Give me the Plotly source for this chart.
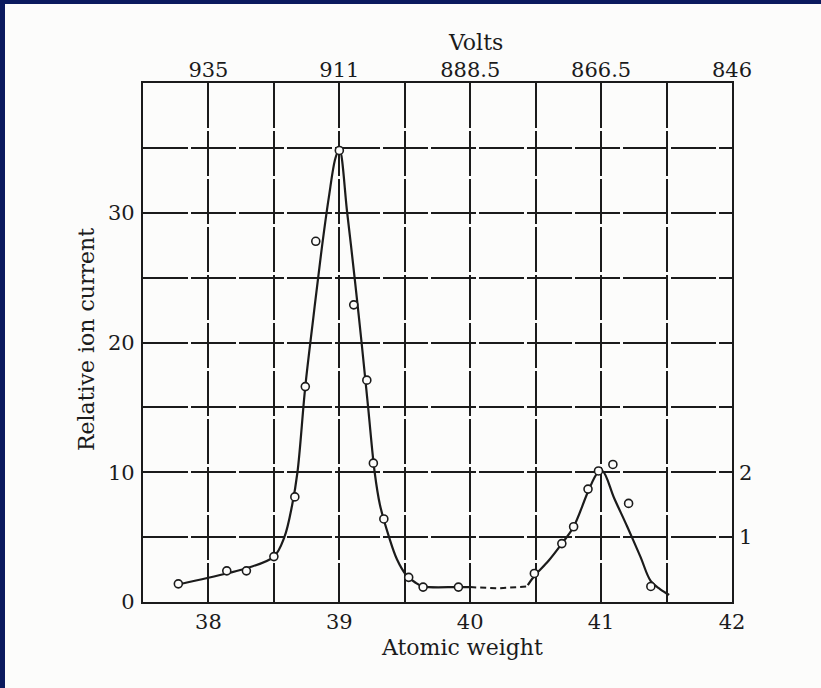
import plotly.graph_objects as go

# measured points (open circles)
mass = [37.77, 38.14, 38.29, 38.50, 38.66, 38.74, 38.82, 39.00, 39.11, 39.21,
        39.26, 39.34, 39.53, 39.64, 39.91, 40.49, 40.70, 40.79, 40.90, 40.98,
        41.09, 41.21, 41.38]
current = [1.4, 2.4, 2.4, 3.5, 8.1, 16.6, 27.8, 34.8, 22.9, 17.1,
           10.7, 6.4, 1.9, 1.15, 1.15, 2.2, 4.5, 5.8, 8.7, 10.1,
           10.6, 7.6, 1.2]

# hand-drawn curve
curve1_x = [37.77, 38.14, 38.29, 38.50, 38.58, 38.64, 38.68, 38.74, 38.80, 38.86,
            38.92, 38.97, 39.00, 39.06, 39.12, 39.17, 39.22, 39.27, 39.31, 39.38,
            39.44, 39.51, 39.58, 39.64, 39.90, 40.00]
curve1_y = [1.35, 2.2, 2.6, 3.5, 5.0, 7.5, 10.0, 16.6, 21.8, 26.8,
            31.2, 34.2, 34.9, 30.0, 24.7, 20.0, 15.0, 10.0, 7.5, 5.0,
            3.3, 2.1, 1.5, 1.2, 1.15, 1.15]
dash_x = [40.00, 40.20, 40.44]
dash_y = [1.15, 1.05, 1.2]
curve2_x = [40.44, 40.49, 40.60, 40.70, 40.79, 40.90, 40.97, 41.01, 41.10, 41.20,
            41.30, 41.38, 41.45, 41.52]
curve2_y = [1.3, 2.0, 3.2, 4.5, 5.8, 8.5, 9.9, 10.1, 8.0, 5.8,
            3.5, 1.6, 1.0, 0.55]

mass_ticks = [38, 39, 40, 41, 42]
volt_labels = ["935", "911", "888.5", "866.5", "846"]
current_ticks = [0, 10, 20, 30]
right_ticks = [5, 10]
right_labels = ["1", "2"]

INK = "#1b1b1b"
FONT = "DejaVu Serif"
PAPER = "#fcfcfb"
NAVY = "#0b1a5e"

W, H = 821, 688
L, R, T, B = 143, 89, 83, 86
pw, ph = W - L - R, H - T - B


def px(x):
    return (x - L) / pw


def py(y):
    return (H - B - y) / ph


fig = go.Figure()
fig.add_trace(go.Scatter(x=curve1_x, y=curve1_y, mode="lines", line_shape="spline",
                         line=dict(color=INK, width=2.2), hoverinfo="skip"))
fig.add_trace(go.Scatter(x=dash_x, y=dash_y, mode="lines",
                         line=dict(color=INK, width=2, dash="6px,4px"), hoverinfo="skip"))
fig.add_trace(go.Scatter(x=curve2_x, y=curve2_y, mode="lines", line_shape="spline",
                         line=dict(color=INK, width=2.2), hoverinfo="skip"))
fig.add_trace(go.Scatter(x=mass, y=current, mode="markers",
                         marker=dict(symbol="circle", size=8, color=PAPER,
                                     line=dict(color=INK, width=1.6))))
# invisible helpers so the top and right axes get drawn
fig.add_trace(go.Scatter(x=mass_ticks, y=[0] * 5, xaxis="x2", mode="markers",
                         marker=dict(opacity=0), hoverinfo="skip"))
fig.add_trace(go.Scatter(x=mass_ticks, y=[0] * 5, yaxis="y2", mode="markers",
                         marker=dict(opacity=0), hoverinfo="skip"))

grid = dict(showgrid=True, gridcolor=INK, gridwidth=1.8, griddash="45px,3px")

fig.update_layout(
    width=W, height=H,
    showlegend=False,
    paper_bgcolor=PAPER, plot_bgcolor=PAPER,
    margin=dict(l=L, r=R, t=T, b=B),
    font=dict(family=FONT, size=21, color=INK),
    xaxis=dict(range=[37.5, 42], tickvals=mass_ticks, showgrid=False, zeroline=False,
               showline=True, linecolor=INK, linewidth=2.2, mirror=True,
               ticks="", ticklabelstandoff=0,
               minor=dict(dtick=0.5, tick0=37.5, **grid)),
    xaxis2=dict(range=[37.5, 42], overlaying="x", side="top", tickvals=mass_ticks,
                ticktext=volt_labels, showgrid=False, zeroline=False, showline=False,
                ticks="", ticklabelstandoff=1),
    yaxis=dict(range=[0, 40], tickvals=current_ticks, showgrid=False, zeroline=False,
               showline=True, linecolor=INK, linewidth=2.2, mirror=True,
               ticks="", ticklabelstandoff=2,
               minor=dict(dtick=5, tick0=0, **grid)),
    yaxis2=dict(range=[0, 40], overlaying="y", side="right", tickvals=right_ticks,
                ticktext=right_labels, showgrid=False, zeroline=False, showline=False,
                ticks="", ticklabelstandoff=6),
    annotations=[
        dict(text="Atomic weight", x=px(462), y=py(647), xref="paper", yref="paper",
             xanchor="center", yanchor="middle", showarrow=False, font=dict(size=22)),
        dict(text="Volts", x=px(475), y=py(43), xref="paper", yref="paper",
             xanchor="center", yanchor="middle", showarrow=False, font=dict(size=22)),
        dict(text="Relative ion current", x=px(86), y=py(340), xref="paper", yref="paper",
             xanchor="center", yanchor="middle", textangle=-90, showarrow=False,
             font=dict(size=22)),
    ],
    shapes=[
        # dark blue slide border on the left and top
        dict(type="rect", xref="paper", yref="paper", x0=px(0), x1=px(5),
             y0=py(H), y1=py(0), line=dict(width=0), fillcolor=NAVY, layer="above"),
        dict(type="rect", xref="paper", yref="paper", x0=px(0), x1=px(W),
             y0=py(4), y1=py(0), line=dict(width=0), fillcolor=NAVY, layer="above"),
    ],
)

fig.write_html("out.html", config={"displayModeBar": False},
               post_script="document.body.style.margin='0';")
